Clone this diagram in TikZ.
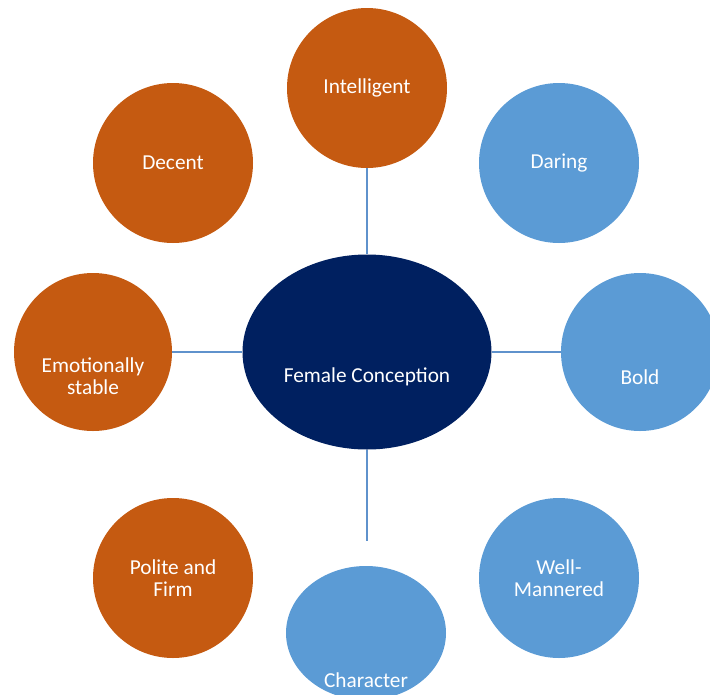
\documentclass[tikz,border=0pt]{standalone}
\usepackage{fontspec}
\setmainfont{Carlito}
\usetikzlibrary{shapes.geometric,positioning}
\definecolor{rust}{HTML}{C55A11}
\definecolor{sky}{HTML}{5B9BD5}
\definecolor{navy}{HTML}{002060}
\definecolor{linkblue}{HTML}{5F92CC}

\tikzset{
  lbl/.style={text=white, align=center, font=\fontsize{21.3}{22}\selectfont},
  bubble/.style={circle, minimum size=160pt, inner sep=0pt, lbl},
  warm/.style={bubble, fill=rust},
  cool/.style={bubble, fill=sky},
  link/.style={draw=linkblue, line width=1.3pt},
}

\begin{document}
\begin{tikzpicture}[x=1pt, y=-1pt]
          \useasboundingbox (0,0) rectangle (710,694);
          \clip (0,0) rectangle (710,694);
          \node[warm] at (367,88) (intel) {Intelligent};
          \node[warm] at (173,163) (decent) {Decent};
          \node[cool] at (559,163) (daring) {Daring};
          \node[warm, minimum size=158pt, label={[lbl,yshift=-24pt]center:Emotionally\\ stable}] at (93,352) (emo) {};
          \node[cool, minimum size=158pt, label={[lbl,yshift=-25pt]center:Bold}] at (640,352) (bold) {};
          \node[ellipse, fill=navy, inner sep=0pt, minimum width=249pt, minimum height=195pt,
                label={[lbl,yshift=-25pt]center:Female Conception}] at (367,352) (fc) {};
          \node[warm] at (173,578) (polite) {Polite and\\ Firm};
          \node[cool] at (559,578) (well) {Well-\\ Mannered};
          \node[ellipse, fill=sky, inner sep=0pt, minimum width=160pt, minimum height=134pt,
                label={[lbl,yshift=-47pt]center:Character}] at (366,633) (char) {};
          \coordinate (tail) at (367,541);
          \draw[link] (intel) -- (fc);
          \draw[link] (emo) -- (fc);
          \draw[link] (fc) -- (bold);
          \draw[link] (fc) -- (tail);
\end{tikzpicture}
\end{document}
